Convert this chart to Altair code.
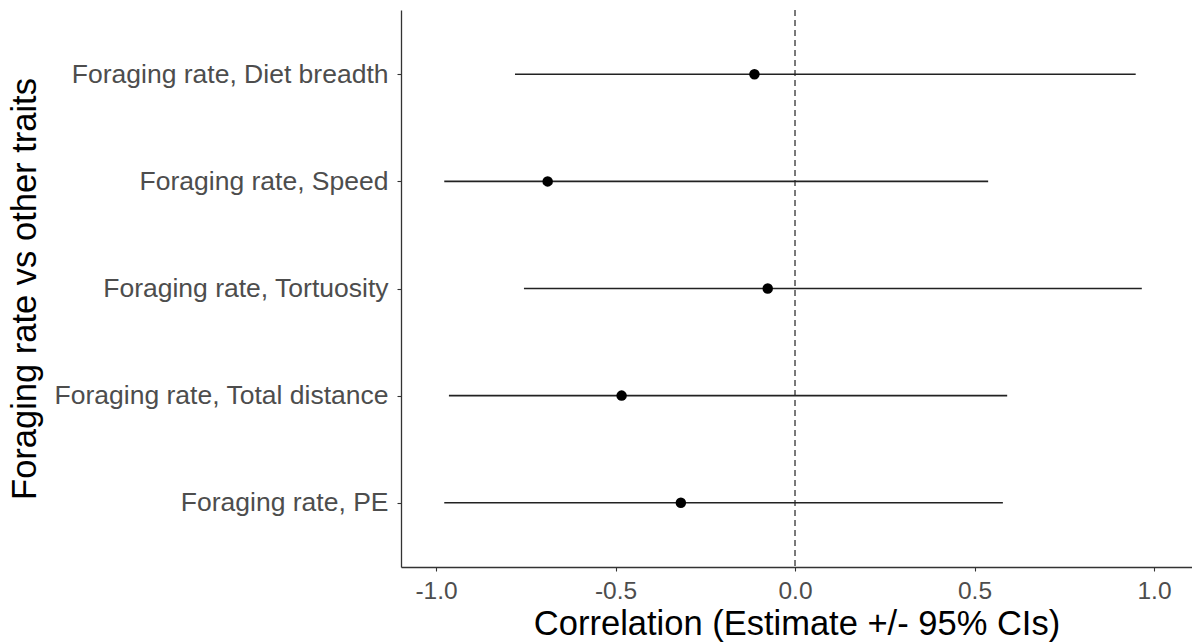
import altair as alt
import pandas as pd

# Correlation estimates with 95% confidence intervals
labels = [
    "Foraging rate, Diet breadth",
    "Foraging rate, Speed",
    "Foraging rate, Tortuosity",
    "Foraging rate, Total distance",
    "Foraging rate, PE",
]
estimate = [-0.113, -0.689, -0.076, -0.483, -0.318]
lower = [-0.780, -0.977, -0.755, -0.964, -0.977]
upper = [0.949, 0.538, 0.966, 0.591, 0.579]

df = pd.DataFrame({"pair": labels, "est": estimate, "lo": lower, "hi": upper})

FONT = "Liberation Sans"
GREY = "#4D4D4D"
DARK = "#333333"

x_scale = alt.Scale(domain=[-1.0975, 1.1058], nice=False, zero=False)
y_scale = alt.Scale(type="point", padding=0.6)

x_axis = alt.Axis(
    title="Correlation (Estimate +/- 95% CIs)",
    values=[-1, -0.5, 0, 0.5, 1],
    labelExpr="datum.value < 0 ? '-' + format(-datum.value, '.1f') : format(datum.value, '.1f')",
    grid=False,
    domainColor=DARK,
    domainWidth=1.3,
    tickColor=DARK,
    tickSize=4,
    tickWidth=1.1,
    labelFont=FONT,
    labelFontSize=24.5,
    labelColor=GREY,
    labelPadding=8,
    titleFont=FONT,
    titleFontSize=34.5,
    titleFontWeight="normal",
    titleColor="black",
    titleY=67,
    titleBaseline="alphabetic",
)

y_axis = alt.Axis(
    title="Foraging rate vs other traits",
    grid=False,
    domainColor=DARK,
    domainWidth=1.3,
    tickColor=DARK,
    tickSize=4,
    tickWidth=1.1,
    labelFont=FONT,
    labelFontSize=26.5,
    labelColor=GREY,
    labelPadding=9,
    labelLimit=500,
    titleFont=FONT,
    titleFontSize=34.5,
    titleFontWeight="normal",
    titleColor="black",
    titleAngle=270,
    titleAlign="center",
    titleBaseline="alphabetic",
    titleX=-366,
    titleY=278.5,
)

base = alt.Chart(df)

ci = base.mark_rule(color="#222222", strokeWidth=1.6).encode(
    x=alt.X("lo:Q", scale=x_scale, axis=x_axis),
    x2="hi:Q",
    y=alt.Y("pair:N", sort=labels, scale=y_scale, axis=y_axis),
)

pts = base.mark_point(filled=True, color="black", size=110, opacity=1).encode(
    x=alt.X("est:Q", scale=x_scale),
    y=alt.Y("pair:N", sort=labels, scale=y_scale),
)

zero_line = alt.Chart(pd.DataFrame({"z": [0.0]})).mark_rule(
    color=DARK, strokeWidth=1.3, strokeDash=[6, 4]
).encode(x=alt.X("z:Q", scale=x_scale))

chart = (
    alt.layer(zero_line, ci, pts)
    .properties(
        width=791,
        height=557,
        autosize=alt.AutoSizeParams(type="none"),
        padding={"left": 401, "top": 10, "right": 0, "bottom": 77},
        background="white",
    )
    .configure_view(stroke=None)
)

chart.save("out.html", embed_options={"renderer": "svg", "actions": False})
